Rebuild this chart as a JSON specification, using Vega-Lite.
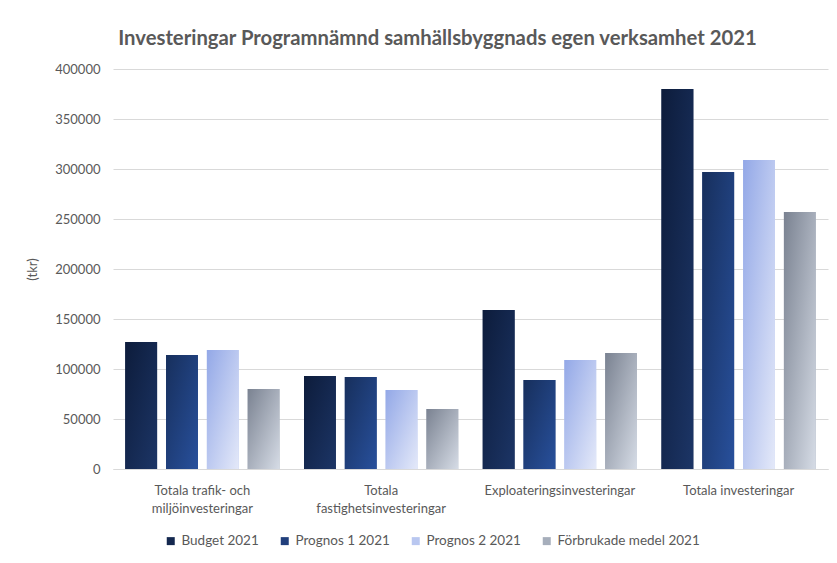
{
  "$schema": "https://vega.github.io/schema/vega-lite/v6.json",
  "width": 715,
  "height": 400,
  "autosize": "none",
  "padding": {"left": 113, "top": 69, "right": 9, "bottom": 94},
  "background": "white",
  "title": {
    "text": "Investeringar Programnämnd samhällsbyggnads egen verksamhet 2021",
    "font": "Lato",
    "fontSize": 20.3,
    "fontWeight": "bold",
    "color": "#595959",
    "anchor": "middle",
    "offset": 14,
    "dx": -33
  },
  "config": {
    "view": {"stroke": null},
    "font": "Lato"
  },
  "data": {
    "values": [
      {"kategori": "Totala trafik- och miljöinvesteringar", "serie": "Budget 2021", "varde": 127000},
      {"kategori": "Totala trafik- och miljöinvesteringar", "serie": "Prognos 1 2021", "varde": 114000},
      {"kategori": "Totala trafik- och miljöinvesteringar", "serie": "Prognos 2 2021", "varde": 119000},
      {"kategori": "Totala trafik- och miljöinvesteringar", "serie": "Förbrukade medel 2021", "varde": 80000},
      {"kategori": "Totala fastighetsinvesteringar", "serie": "Budget 2021", "varde": 93000},
      {"kategori": "Totala fastighetsinvesteringar", "serie": "Prognos 1 2021", "varde": 92000},
      {"kategori": "Totala fastighetsinvesteringar", "serie": "Prognos 2 2021", "varde": 79000},
      {"kategori": "Totala fastighetsinvesteringar", "serie": "Förbrukade medel 2021", "varde": 60000},
      {"kategori": "Exploateringsinvesteringar", "serie": "Budget 2021", "varde": 159000},
      {"kategori": "Exploateringsinvesteringar", "serie": "Prognos 1 2021", "varde": 89000},
      {"kategori": "Exploateringsinvesteringar", "serie": "Prognos 2 2021", "varde": 109000},
      {"kategori": "Exploateringsinvesteringar", "serie": "Förbrukade medel 2021", "varde": 116000},
      {"kategori": "Totala investeringar", "serie": "Budget 2021", "varde": 380000},
      {"kategori": "Totala investeringar", "serie": "Prognos 1 2021", "varde": 297000},
      {"kategori": "Totala investeringar", "serie": "Prognos 2 2021", "varde": 309000},
      {"kategori": "Totala investeringar", "serie": "Förbrukade medel 2021", "varde": 257000}
    ]
  },
  "encoding": {
    "x": {
      "field": "kategori",
      "type": "nominal",
      "sort": ["Totala trafik- och miljöinvesteringar", "Totala fastighetsinvesteringar", "Exploateringsinvesteringar", "Totala investeringar"],
      "scale": {"paddingInner": 0.137, "paddingOuter": 0.0686},
      "axis": {
        "title": null,
        "labelAngle": 0,
        "labelFontSize": 13,
        "labelColor": "#595959",
        "labelPadding": 15,
        "labelLineHeight": 18,
        "labelLimit": 0,
        "ticks": false,
        "grid": false,
        "domainColor": "#d9d9d9",
        "labelExpr": "datum.label == 'Totala trafik- och miljöinvesteringar' ? ['Totala trafik- och', 'miljöinvesteringar'] : datum.label == 'Totala fastighetsinvesteringar' ? ['Totala', 'fastighetsinvesteringar'] : datum.label"
      }
    },
    "xOffset": {
      "field": "serie",
      "type": "nominal",
      "scale": {"domain": ["Budget 2021", "Prognos 1 2021", "Prognos 2 2021", "Förbrukade medel 2021"], "paddingInner": 0.22, "paddingOuter": 0}
    },
    "y": {
      "field": "varde",
      "type": "quantitative",
      "scale": {"domain": [0, 400000]},
      "axis": {
        "title": "(tkr)",
        "titleFontSize": 13,
        "titleFontWeight": "normal",
        "titleColor": "#595959",
        "titlePadding": 15,
        "values": [0, 50000, 100000, 150000, 200000, 250000, 300000, 350000, 400000],
        "format": "d",
        "labelFontSize": 13,
        "labelColor": "#595959",
        "labelPadding": 13,
        "domain": false,
        "ticks": false,
        "gridColor": "#d9d9d9"
      }
    }
  },
  "layer": [
    {
      "mark": {"type": "bar"},
      "encoding": {
        "color": {
          "field": "serie",
          "type": "nominal",
          "scale": {
            "domain": ["Budget 2021", "Prognos 1 2021", "Prognos 2 2021", "Förbrukade medel 2021"],
            "range": ["#14284f", "#213f7c", "#b9c7f0", "#a6aebb"]
          },
          "legend": {
            "title": null,
            "orient": "none",
            "legendX": 51,
            "legendY": 465,
            "direction": "horizontal",
            "symbolType": "square",
            "symbolSize": 64,
            "symbolStrokeWidth": 0,
            "labelFontSize": 13.5,
            "labelColor": "#595959",
            "labelOffset": 4,
            "columnPadding": 19
          }
        }
      }
    },
    {
      "transform": [{"filter": "datum.serie == 'Budget 2021'"}],
      "mark": {"type": "bar", "color": {"gradient": "linear", "x1": 0, "y1": 0, "x2": 1, "y2": 1, "stops": [{"offset": 0, "color": "#0d1c3b"}, {"offset": 1, "color": "#1c3566"}]}}
    },
    {
      "transform": [{"filter": "datum.serie == 'Prognos 1 2021'"}],
      "mark": {"type": "bar", "color": {"gradient": "linear", "x1": 0, "y1": 0, "x2": 1, "y2": 1, "stops": [{"offset": 0, "color": "#172f5c"}, {"offset": 1, "color": "#28509c"}]}}
    },
    {
      "transform": [{"filter": "datum.serie == 'Prognos 2 2021'"}],
      "mark": {"type": "bar", "color": {"gradient": "linear", "x1": 0, "y1": 0, "x2": 1, "y2": 1, "stops": [{"offset": 0, "color": "#93a8e7"}, {"offset": 1, "color": "#e4e9f9"}]}}
    },
    {
      "transform": [{"filter": "datum.serie == 'Förbrukade medel 2021'"}],
      "mark": {"type": "bar", "color": {"gradient": "linear", "x1": 0, "y1": 0, "x2": 1, "y2": 1, "stops": [{"offset": 0, "color": "#7a8291"}, {"offset": 1, "color": "#d6dce6"}]}}
    }
  ]
}
